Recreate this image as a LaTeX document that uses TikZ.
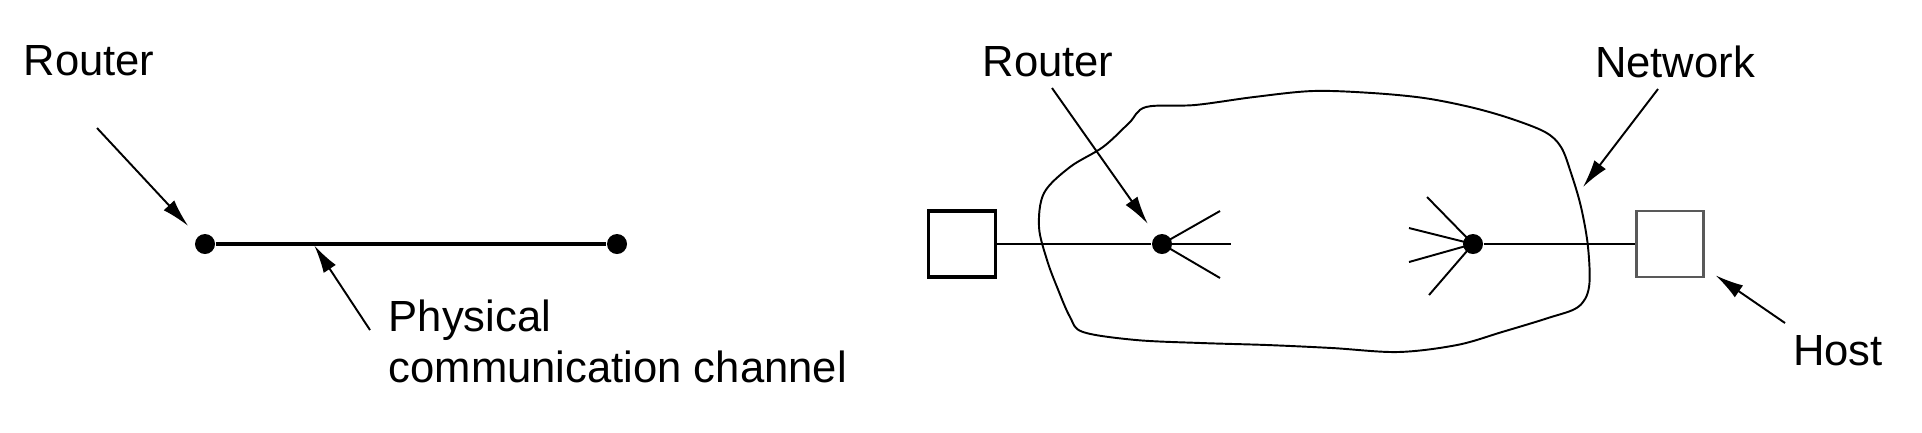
\documentclass[tikz,border=0pt]{standalone}
\usepackage{fontspec}
\setmainfont{Liberation Sans}
\usetikzlibrary{shapes,arrows,arrows.meta,positioning,fit,calc}

\begin{document}
\begin{tikzpicture}[x=0.01cm, y=-0.01cm,
    >={Latex[length=2.8mm,width=1.45mm]},
    font=\fontsize{12.4}{14.6}\selectfont,
    router/.style={circle, fill, inner sep=0pt, minimum size=0.2cm},
    host/.style={rectangle, draw, line width=0.95pt, minimum width=0.67cm, minimum height=0.66cm, inner sep=0pt},
    lbl/.style={inner sep=0pt},
    pointer/.style={->, line width=0.55pt}]
    \useasboundingbox (0,0) rectangle (1922,432);

    % left: two routers joined by a channel
    \node (rA) [router] at (205,244) {};
    \node (rB) [router] at (617,244) {};
    \draw [line width=0.9pt] (rA) -- coordinate[pos=0.25] (chan) (rB);

    \node (lblRA) [lbl] at (89,61) {Router};
    \coordinate (tRA) at (97,128);
    \draw [pointer, shorten >=4pt] (tRA) -- (rA);

    \node (lblCh) [lbl, align=left, anchor=north west] at (388,299) {Physical\\communication channel};
    \coordinate (tCh) at (370,330);
    \draw [pointer, shorten >=0.5pt] (tCh) -- (chan);

    % right: hosts, routers and the network
    \draw [line width=0.55pt] plot [smooth cycle, tension=0.55] coordinates {
        (1146,107) (1195,105) (1254,97) (1313,91) (1372,93) (1424,98) (1470,107)
        (1509,118) (1545,132) (1561,147) (1571,173) (1581,207) (1588,247) (1589,287)
        (1578,307) (1548,318) (1502,332) (1457,345) (1398,352) (1332,348) (1267,345)
        (1201,343) (1136,340) (1083,332) (1070,317) (1057,287) (1047,260) (1039,227)
        (1044,193) (1070,167) (1103,147) (1129,123)};

    \node (hA) [host] at (962,244) {};
    \node (rC) [router] at (1162,244) {};
    \node (rD) [router] at (1473,244) {};
    \node (hB) [host, draw=black!65, line width=0.7pt] at (1670,244) {};
    \draw [line width=0.6pt] (hA) -- (rC);
    \draw [line width=0.6pt] (rD) -- (hB);

    \coordinate (sC1) at (1220,211);
    \coordinate (sC2) at (1231,244);
    \coordinate (sC3) at (1220,278);
    \coordinate (sD1) at (1427,197);
    \coordinate (sD2) at (1409,228);
    \coordinate (sD3) at (1409,262);
    \coordinate (sD4) at (1429,295);
    \foreach \s in {sC1,sC2,sC3}
        \draw [line width=0.55pt] (rC.center) -- (\s);
    \foreach \s in {sD1,sD2,sD3,sD4}
        \draw [line width=0.55pt] (rD.center) -- (\s);

    \node (lblRC) [lbl] at (1048,62) {Router};
    \coordinate (tRC) at (1052,88);
    \draw [pointer, shorten >=4pt] (tRC) -- (rC);

    \node (lblNet) [lbl] at (1675,62) {Network};
    \coordinate (tNet) at (1658,89);
    \coordinate (netEdge) at (1583,187);
    \draw [pointer] (tNet) -- (netEdge);

    \node (lblHost) [lbl] at (1838,351) {Host};
    \coordinate (tHost) at (1785,323);
    \draw [pointer, shorten >=3.8pt] (tHost) -- (hB);
\end{tikzpicture}
\end{document}
